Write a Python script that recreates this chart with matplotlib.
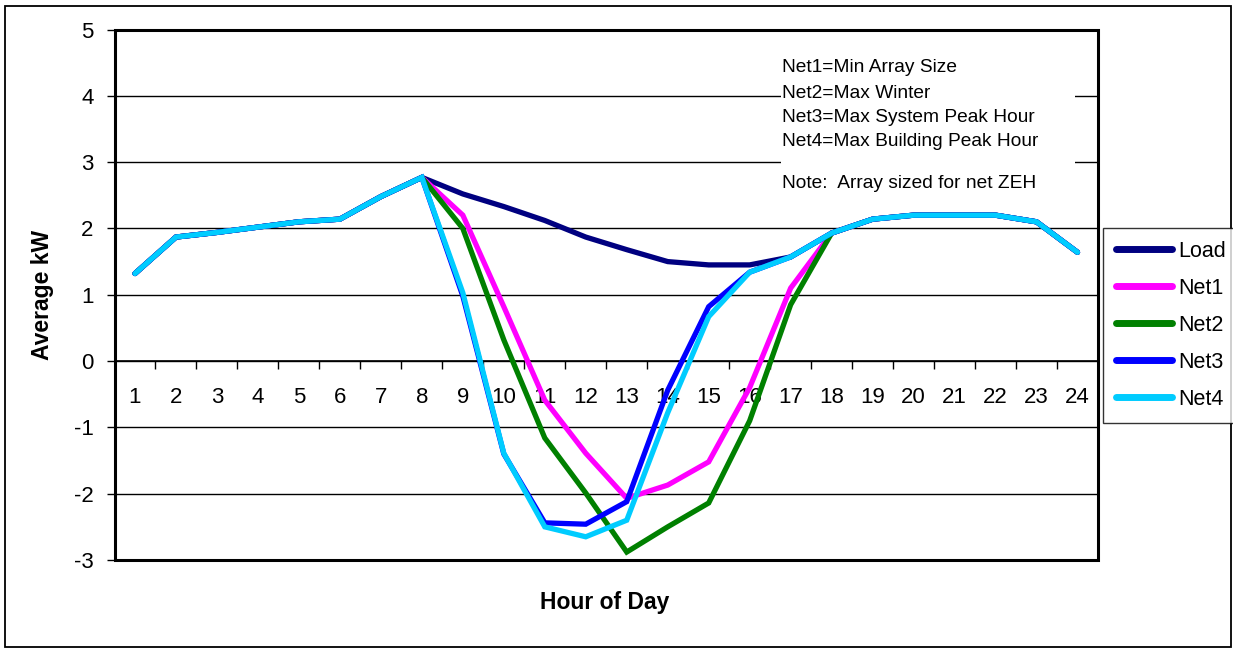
import matplotlib
matplotlib.use("Agg")
import matplotlib.pyplot as plt
from matplotlib.patches import Rectangle

plt.rcParams['font.family'] = ['Liberation Sans', 'DejaVu Sans']
plt.rcParams['axes.unicode_minus'] = False

hours = list(range(1, 25))
load = [1.32, 1.87, 1.94, 2.02, 2.10, 2.14, 2.48, 2.77, 2.52, 2.33, 2.12, 1.87,
        1.68, 1.50, 1.45, 1.45, 1.57, 1.93, 2.14, 2.20, 2.20, 2.20, 2.10, 1.64]
net1 = [1.32, 1.87, 1.94, 2.02, 2.10, 2.14, 2.48, 2.77, 2.20, 0.82, -0.59, -1.39,
        -2.07, -1.87, -1.52, -0.40, 1.10, 1.93, 2.14, 2.20, 2.20, 2.20, 2.10, 1.64]
net2 = [1.32, 1.87, 1.94, 2.02, 2.10, 2.14, 2.48, 2.77, 2.00, 0.32, -1.16, -1.99,
        -2.88, -2.50, -2.14, -0.90, 0.85, 1.93, 2.14, 2.20, 2.20, 2.20, 2.10, 1.64]
net3 = [1.32, 1.87, 1.94, 2.02, 2.10, 2.14, 2.48, 2.77, 0.98, -1.40, -2.44, -2.46,
        -2.12, -0.44, 0.82, 1.34, 1.57, 1.93, 2.14, 2.20, 2.20, 2.20, 2.10, 1.64]
net4 = [1.32, 1.87, 1.94, 2.02, 2.10, 2.14, 2.48, 2.77, 1.03, -1.39, -2.50, -2.65,
        -2.40, -0.78, 0.67, 1.34, 1.57, 1.93, 2.14, 2.20, 2.20, 2.20, 2.10, 1.64]

series_names = ["Load", "Net1", "Net2", "Net3", "Net4"]
series_values = [load, net1, net2, net3, net4]
series_colors = ["#000080", "#FF00FF", "#008000", "#0000FF", "#00CCFF"]

note_lines = ["Net1=Min Array Size", "Net2=Max Winter", "Net3=Max System Peak Hour",
              "Net4=Max Building Peak Hour", "Note:  Array sized for net ZEH"]

W, H = 1233, 648
fig = plt.figure(figsize=(W / 100, H / 100), dpi=100)
fig.patch.set_facecolor('white')

def fx(px):
    return px / W

def fy(py):
    return 1 - py / H

# outer chart border
fig.patches.append(Rectangle((fx(4.5), fy(646.5)), fx(1231.5) - fx(4.5), fy(5.5) - fy(646.5),
                             transform=fig.transFigure, fill=False, edgecolor='black', lw=1.3))

ax = fig.add_axes([fx(114.5), fy(560), fx(1098) - fx(114.5), fy(29.5) - fy(560)])
ax.set_xlim(0.5, 24.5)
ax.set_ylim(-3, 5)

for y in range(-3, 6):
    ax.axhline(y, color='black', lw=1.0, zorder=1)

lines = []
for name, vals, col in zip(series_names, series_values, series_colors):
    ln, = ax.plot(hours, vals, color=col, lw=3.8, label=name, zorder=3,
                  solid_joinstyle='miter', solid_capstyle='round')
    lines.append(ln)

# axis line at zero
for s in ['top', 'right', 'left']:
    ax.spines[s].set_visible(False)
ax.spines['bottom'].set_position(('data', 0))
ax.spines['bottom'].set_linewidth(1.2)
ax.add_patch(Rectangle((0, 0), 1, 1, transform=ax.transAxes, fill=False,
                       edgecolor='black', lw=2.2, zorder=5, clip_on=False))

ax.set_xticks(hours)
ax.set_xticklabels([str(h) for h in hours])
ax.set_xticks([h + 0.5 for h in range(0, 25)], minor=True)
ax.tick_params(axis='x', which='major', length=0, pad=19, labelsize=16)
ax.tick_params(axis='x', which='minor', length=6, width=1, direction='out')

ax.set_yticks(range(-3, 6))
ax.tick_params(axis='y', which='major', length=6, width=1, pad=9, labelsize=16, direction='out')

fig.text(fx(43), fy(295), "Average kW", rotation=90, ha='center', va='center',
         fontsize=16.5, fontweight='bold')
fig.text(fx(605), fy(603), "Hour of Day", ha='center', va='center',
         fontsize=16.5, fontweight='bold')

# note box
fig.patches.append(Rectangle((fx(781), fy(205)), fx(1075) - fx(781), fy(50) - fy(205),
                             transform=fig.transFigure, facecolor='white', edgecolor='none',
                             zorder=4))
note_y = [67, 93, 118, 142, 183]
for t, py in zip(note_lines, note_y):
    fig.text(fx(782), fy(py), t, ha='left', va='center', fontsize=13.8, zorder=6)

leg = fig.legend(handles=lines, labels=series_names, loc='upper left',
                 bbox_to_anchor=(fx(1103), fy(228)), frameon=True, fancybox=False,
                 fontsize=15.5, handlelength=2.6, handletextpad=0.3, labelspacing=0.74,
                 borderpad=0.6, borderaxespad=0)
leg.get_frame().set_edgecolor('black')
leg.get_frame().set_linewidth(1.0)
for lh in leg.get_lines():
    lh.set_linewidth(5)
    lh.set_solid_capstyle('round')

fig.savefig("out.png", dpi=100)
